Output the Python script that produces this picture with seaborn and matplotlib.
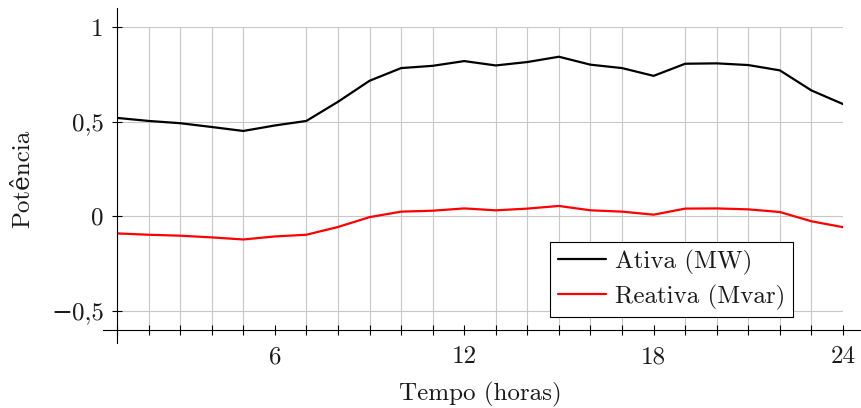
import matplotlib
matplotlib.use("Agg")
import matplotlib.pyplot as plt
import seaborn as sns
import pandas as pd
from matplotlib.ticker import MultipleLocator, FixedLocator, FuncFormatter

hours = list(range(1, 25))
ativa = [0.520, 0.504, 0.492, 0.472, 0.451, 0.480, 0.504, 0.605, 0.716, 0.783,
         0.795, 0.820, 0.797, 0.815, 0.843, 0.801, 0.783, 0.742, 0.806, 0.808,
         0.799, 0.771, 0.665, 0.593]
reativa = [-0.090, -0.097, -0.102, -0.111, -0.122, -0.106, -0.097, -0.056, -0.004, 0.025,
           0.030, 0.042, 0.032, 0.041, 0.055, 0.032, 0.025, 0.009, 0.041, 0.042,
           0.037, 0.023, -0.026, -0.057]
series_names = ["Ativa (MW)", "Reativa (Mvar)"]
x_ticks = [6, 12, 18, 24]
y_ticks = [-0.5, 0, 0.5, 1]

df = pd.DataFrame({
    "Tempo": hours * 2,
    "Potencia": ativa + reativa,
    "Serie": [series_names[0]] * len(hours) + [series_names[1]] * len(hours),
})

sns.set_theme(style="white")
plt.rcParams["font.family"] = ["cmr10", "DejaVu Serif"]
plt.rcParams["mathtext.fontset"] = "cm"
plt.rcParams["axes.formatter.use_mathtext"] = False

FS = 18
TXT = "#1a1a1a"

fig = plt.figure(figsize=(8.61, 4.08), dpi=100)
ax = fig.add_axes([117 / 861, 78 / 408, 726 / 861, 303 / 408])

sns.lineplot(data=df, x="Tempo", y="Potencia", hue="Serie",
             palette={series_names[0]: "black", series_names[1]: "#ff0000"},
             linewidth=1.6, ax=ax, legend=True)

ax.set_xlim(1, 24)
ax.set_ylim(-0.6, 1.0)

ax.xaxis.set_major_locator(FixedLocator(x_ticks))
ax.xaxis.set_minor_locator(MultipleLocator(1))
ax.yaxis.set_major_locator(FixedLocator(y_ticks))

def yfmt(v, pos):
    if abs(v - round(v)) < 1e-9:
        s = str(int(round(v)))
    else:
        s = ("%g" % v).replace(".", ",")
    return s.replace("-", "\u2212")

ax.yaxis.set_major_formatter(FuncFormatter(yfmt))

ax.grid(True, which="major", axis="y", color="#c8c8c8", linewidth=0.8)
ax.grid(True, which="minor", axis="x", color="#c8c8c8", linewidth=0.8)
ax.grid(False, which="major", axis="x")
ax.set_axisbelow(True)

for s in ["top", "right"]:
    ax.spines[s].set_visible(False)
for s in ["left", "bottom"]:
    ax.spines[s].set_color("black")
    ax.spines[s].set_linewidth(0.8)
ax.spines["bottom"].set_bounds(0.556, 24.6)
ax.spines["left"].set_bounds(-0.669, 1.10)

ax.tick_params(axis="both", which="both", direction="inout", color="black",
               width=0.8, labelsize=FS, labelcolor=TXT, bottom=True, left=True,
               top=False, right=False)
ax.tick_params(axis="both", which="major", length=7)
ax.tick_params(axis="x", which="minor", length=7)
ax.tick_params(axis="x", which="major", pad=8)
ax.tick_params(axis="y", which="major", pad=6)

ax.set_xlabel("Tempo (horas)", fontsize=FS, labelpad=10, color=TXT)
ax.set_ylabel("Potência", fontsize=FS, labelpad=12, color=TXT)

leg = ax.legend(loc="lower right", bbox_to_anchor=(0.931, 0.042), fontsize=FS,
                frameon=True, fancybox=False, edgecolor="black", framealpha=1,
                handlelength=1.95, handletextpad=0.35, borderpad=0.3,
                labelspacing=0.4, borderaxespad=0)
leg.get_frame().set_linewidth(0.8)
for t in leg.get_texts():
    t.set_color(TXT)

fig.savefig("out.png", dpi=100)
